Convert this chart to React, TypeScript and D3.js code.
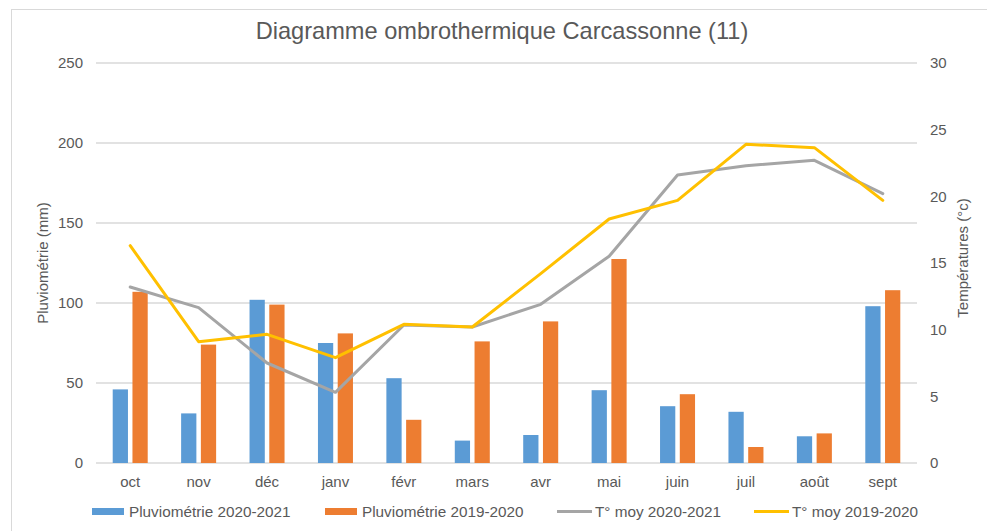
import React from "react";
import * as d3 from "d3";

const months = ["oct", "nov", "déc", "janv", "févr", "mars", "avr", "mai", "juin", "juil", "août", "sept"];
const pluvio2021 = [46, 31, 102, 75, 53, 14, 17.5, 45.5, 35.5, 32, 16.7, 98];
const pluvio1920 = [107, 74, 99, 81, 27, 76, 88.5, 127.5, 43, 10, 18.5, 108];
const temp2021 = [13.2, 11.65, 7.5, 5.3, 10.35, 10.2, 11.9, 15.5, 21.6, 22.3, 22.7, 20.2];
const temp1920 = [16.3, 9.1, 9.65, 7.9, 10.4, 10.2, 14.2, 18.3, 19.7, 23.9, 23.65, 19.7];
const pluvioTicks = [0, 50, 100, 150, 200, 250];
const tempTicks = [0, 5, 10, 15, 20, 25, 30];
const legendLabels = ["Pluviométrie 2020-2021", "Pluviométrie 2019-2020", "T° moy 2020-2021", "T° moy 2019-2020"];
const titleText = "Diagramme ombrothermique Carcassonne (11)";
const leftAxisTitle = "Pluviométrie (mm)";
const rightAxisTitle = "Températures (°c)";

const W = 987;
const H = 531;
const plotLeft = 96;
const plotRight = 917;
const plotTop = 63;
const plotBottom = 463;
const colors = { blue: "#5B9BD5", orange: "#ED7D31", grey: "#A5A5A5", yellow: "#FFC000" };
const textColor = "#595959";
const gridColor = "#D9D9D9";
const font = "'Liberation Sans', Arial, sans-serif";

export default function App() {
  const x = d3.scaleBand<string>().domain(months).range([plotLeft, plotRight]).padding(0);
  const groupW = 35;
  const x1 = d3.scaleBand<string>().domain(["a", "b"]).range([0, groupW]).paddingInner(0.228);
  const yP = d3.scaleLinear().domain([0, 250]).range([plotBottom, plotTop]);
  const yT = d3.scaleLinear().domain([0, 30]).range([plotBottom, plotTop]);
  const cx = (m: string) => (x(m) as number) + x.bandwidth() / 2;

  const line = (vals: number[]) =>
    d3
      .line<number>()
      .x((_, i) => cx(months[i]))
      .y((d) => yT(d))(vals) as string;

  const legendX = [92, 325, 557, 754];
  const legendColors = [colors.blue, colors.orange, colors.grey, colors.yellow];
  const midY = (plotTop + plotBottom) / 2;

  return (
    <svg width={W} height={H} style={{ position: "absolute", left: 0, top: 0, background: "#fff" }} fontFamily={font}>
      <rect x={0} y={0} width={W} height={H} fill="#fff" />
      <rect x={11.5} y={9.5} width={W + 20} height={H + 20} fill="none" stroke={gridColor} strokeWidth={1} />
      <text x={502} y={38.5} textAnchor="middle" fontSize={23.6} fill={textColor}>
        {titleText}
      </text>
      {pluvioTicks.map((t) => (
        <g key={"g" + t}>
          <line x1={plotLeft} x2={plotRight} y1={yP(t)} y2={yP(t)} stroke={gridColor} strokeWidth={1.3} />
          <text x={83} y={yP(t)} dy="0.35em" textAnchor="end" fontSize={15} fill={textColor}>
            {t}
          </text>
        </g>
      ))}
      {tempTicks.map((t) => (
        <text key={"t" + t} x={930} y={yT(t)} dy="0.35em" textAnchor="start" fontSize={15} fill={textColor}>
          {t}
        </text>
      ))}
      <text transform={`translate(48,${midY}) rotate(-90)`} textAnchor="middle" fontSize={15} fill={textColor}>
        {leftAxisTitle}
      </text>
      <text transform={`translate(968,${midY - 5}) rotate(-90)`} textAnchor="middle" fontSize={15} fill={textColor}>
        {rightAxisTitle}
      </text>
      {months.map((m, i) => {
        const gx = cx(m) - groupW / 2;
        return (
          <g key={m}>
            <rect x={gx + (x1("a") as number)} y={yP(pluvio2021[i])} width={x1.bandwidth()} height={yP(0) - yP(pluvio2021[i])} fill={colors.blue} />
            <rect x={gx + (x1("b") as number)} y={yP(pluvio1920[i])} width={x1.bandwidth()} height={yP(0) - yP(pluvio1920[i])} fill={colors.orange} />
            <text x={cx(m)} y={487} textAnchor="middle" fontSize={15} fill={textColor}>
              {m}
            </text>
          </g>
        );
      })}
      <path d={line(temp2021)} fill="none" stroke={colors.grey} strokeWidth={3} strokeLinejoin="round" strokeLinecap="round" />
      <path d={line(temp1920)} fill="none" stroke={colors.yellow} strokeWidth={3} strokeLinejoin="round" strokeLinecap="round" />
      {legendLabels.map((lab, i) => (
        <g key={lab}>
          {i < 2 ? (
            <rect x={legendX[i]} y={508} width={32} height={7} fill={legendColors[i]} />
          ) : (
            <line x1={legendX[i]} x2={legendX[i] + 35} y1={511.5} y2={511.5} stroke={legendColors[i]} strokeWidth={3} />
          )}
          <text x={legendX[i] + (i < 2 ? 37 : 38)} y={517} fontSize={15.3} fill={textColor}>
            {lab}
          </text>
        </g>
      ))}
    </svg>
  );
}
